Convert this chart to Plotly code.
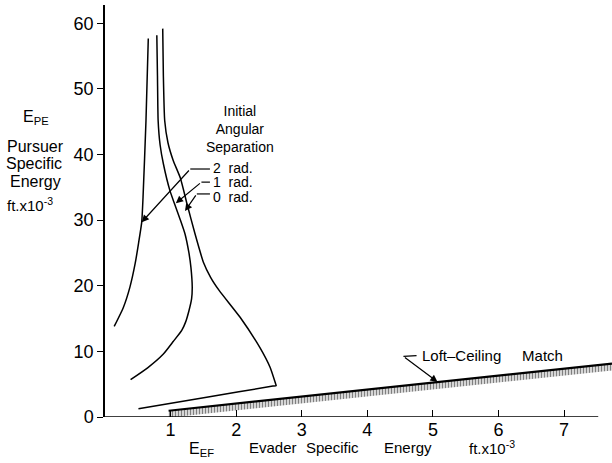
import plotly.graph_objects as go

# ---- data ----
angle_labels = ["2  rad.", "1  rad.", "0  rad."]

x_2rad = [0.14, 0.28, 0.38, 0.46, 0.51, 0.56, 0.58, 0.625, 0.66]
y_2rad = [13.8, 16.7, 19.8, 23.4, 26.4, 29.7, 33.5, 45.2, 57.7]

x_1rad = [0.79, 0.80, 0.81, 0.84, 0.89, 0.99, 1.06, 1.15, 1.22, 1.28, 1.31, 1.33, 1.32, 1.28, 1.23, 1.17, 1.04, 0.89, 0.65, 0.39]
y_1rad = [58.2, 52.0, 45.2, 41.5, 38.6, 34.5, 32.5, 30.0, 27.9, 25.0, 22.8, 19.8, 18.0, 16.2, 14.5, 13.2, 11.5, 9.6, 7.5, 5.7]

x_0rad = [0.88, 0.89, 0.91, 0.96, 1.04, 1.15, 1.25, 1.37, 1.50, 1.61, 1.74, 2.06, 2.36, 2.52, 2.60, 2.61, 2.56, 1.55, 0.51]
y_0rad = [59.2, 52.0, 45.2, 41.8, 39.1, 36.4, 32.5, 28.0, 23.6, 21.3, 19.3, 15.2, 10.6, 7.5, 5.1, 4.8, 4.72, 3.0, 1.25]

loft_x = [0.97, 7.73]
loft_y = [0.95, 8.15]

y_ticks = [0, 10, 20, 30, 40, 50, 60]
x_ticks = [1, 2, 3, 4, 5, 6, 7]

FONT = "Liberation Sans"
HATCH = 1.05  # thickness of hatched band (style)

fig = go.Figure()

# hatched band under the loft-ceiling line
fig.add_trace(go.Scatter(x=loft_x, y=[v - HATCH for v in loft_y], mode="lines",
                         line=dict(width=0, color="black"), showlegend=False, hoverinfo="skip"))
fig.add_trace(go.Scatter(x=loft_x, y=loft_y, mode="lines", fill="tonexty",
                         fillcolor="white",
                         fillpattern=dict(shape="|", fgcolor="black", bgcolor="white",
                                          size=3, solidity=0.55),
                         line=dict(width=2.2, color="black"), showlegend=False, hoverinfo="skip"))

for xs, ys in [(x_2rad, y_2rad), (x_1rad, y_1rad), (x_0rad, y_0rad)]:
    fig.add_trace(go.Scatter(x=xs, y=ys, mode="lines",
                             line=dict(color="black", width=1.5, shape="spline", smoothing=0.5),
                             showlegend=False, hoverinfo="skip"))

shapes = [
    dict(type="line", xref="x", yref="y", x0=0, y0=0, x1=7.52, y1=0, line=dict(color="black", width=1.5)),
    # horizontal leader stubs
    dict(type="line", xref="x", yref="y", x0=1.30, y0=37.8, x1=1.60, y1=37.8, line=dict(color="black", width=1.2)),
    dict(type="line", xref="x", yref="y", x0=1.47, y0=35.8, x1=1.60, y1=35.8, line=dict(color="black", width=1.2)),
    dict(type="line", xref="x", yref="y", x0=1.40, y0=34.0, x1=1.60, y1=34.0, line=dict(color="black", width=1.2)),
    dict(type="line", xref="x", yref="y", x0=4.55, y0=9.25, x1=4.75, y1=9.35, line=dict(color="black", width=1.2)),
]

ann = []
def arrow(x, y, ax, ay):
    ann.append(dict(x=x, y=y, ax=ax, ay=ay, xref="x", yref="y", axref="x", ayref="y",
                    text="", showarrow=True, arrowhead=2, arrowsize=1.2, arrowwidth=1.2,
                    arrowcolor="black", standoff=0, startstandoff=0))

arrow(0.56, 29.7, 1.30, 37.8)
arrow(1.08, 32.6, 1.47, 35.8)
arrow(1.22, 31.4, 1.40, 34.0)
arrow(5.07, 5.35, 4.55, 9.25)

def txt(x, y, s, size=14, xanchor="center", xref="x", yref="y"):
    ann.append(dict(x=x, y=y, xref=xref, yref=yref, text=s, showarrow=False, xanchor=xanchor,
                    yanchor="middle", font=dict(family=FONT, size=size, color="black")))

txt(2.06, 43.9, "Initial<br>Angular<br>Separation", size=14)
for lab, yy in zip(angle_labels, [38.0, 35.8, 33.6]):
    txt(1.61, yy, lab, xanchor="left")
txt(4.80, 9.4, "Loft\u2013Ceiling     Match", size=15, xanchor="left")

# y-axis title block (paper coords)
P = dict(xref="paper", yref="paper")
txt(-0.136, 0.726, "E<sub>PE</sub>", size=16, **P)
txt(-0.138, 0.656, "Pursuer", size=16, **P)
txt(-0.140, 0.616, "Specific", size=16, **P)
txt(-0.138, 0.571, "Energy", size=16, **P)
txt(-0.148, 0.515, "ft.x10<sup>-3</sup>", size=15, **P)

# x-axis title block (paper coords)
txt(0.191, -0.080, "E<sub>EF</sub>", size=16, **P)
txt(0.331, -0.075, "Evader", size=15, **P)
txt(0.448, -0.075, "Specific", size=15, **P)
txt(0.598, -0.075, "Energy", size=15, **P)
txt(0.763, -0.075, "ft.x10<sup>-3</sup>", size=15, **P)

fig.update_layout(
    width=612, height=463,
    margin=dict(l=105, r=0, t=5, b=46, pad=0),
    paper_bgcolor="white", plot_bgcolor="white",
    shapes=shapes, annotations=ann,
    xaxis=dict(range=[0, 7.73], showgrid=False, zeroline=False, showline=False,
               tickvals=x_ticks, ticktext=[str(v) for v in x_ticks],
               ticks="inside", ticklen=7, tickwidth=1.3, tickcolor="black",
               tickfont=dict(family=FONT, size=18, color="black")),
    yaxis=dict(range=[0, 62.8], showgrid=False, zeroline=False, showline=True,
               linecolor="black", linewidth=1.5,
               tickvals=y_ticks, ticktext=[str(v) for v in y_ticks],
               ticks="outside", ticklen=6, tickwidth=1.3, tickcolor="black",
               tickfont=dict(family=FONT, size=18, color="black")),
)

fig.write_html("out.html")
